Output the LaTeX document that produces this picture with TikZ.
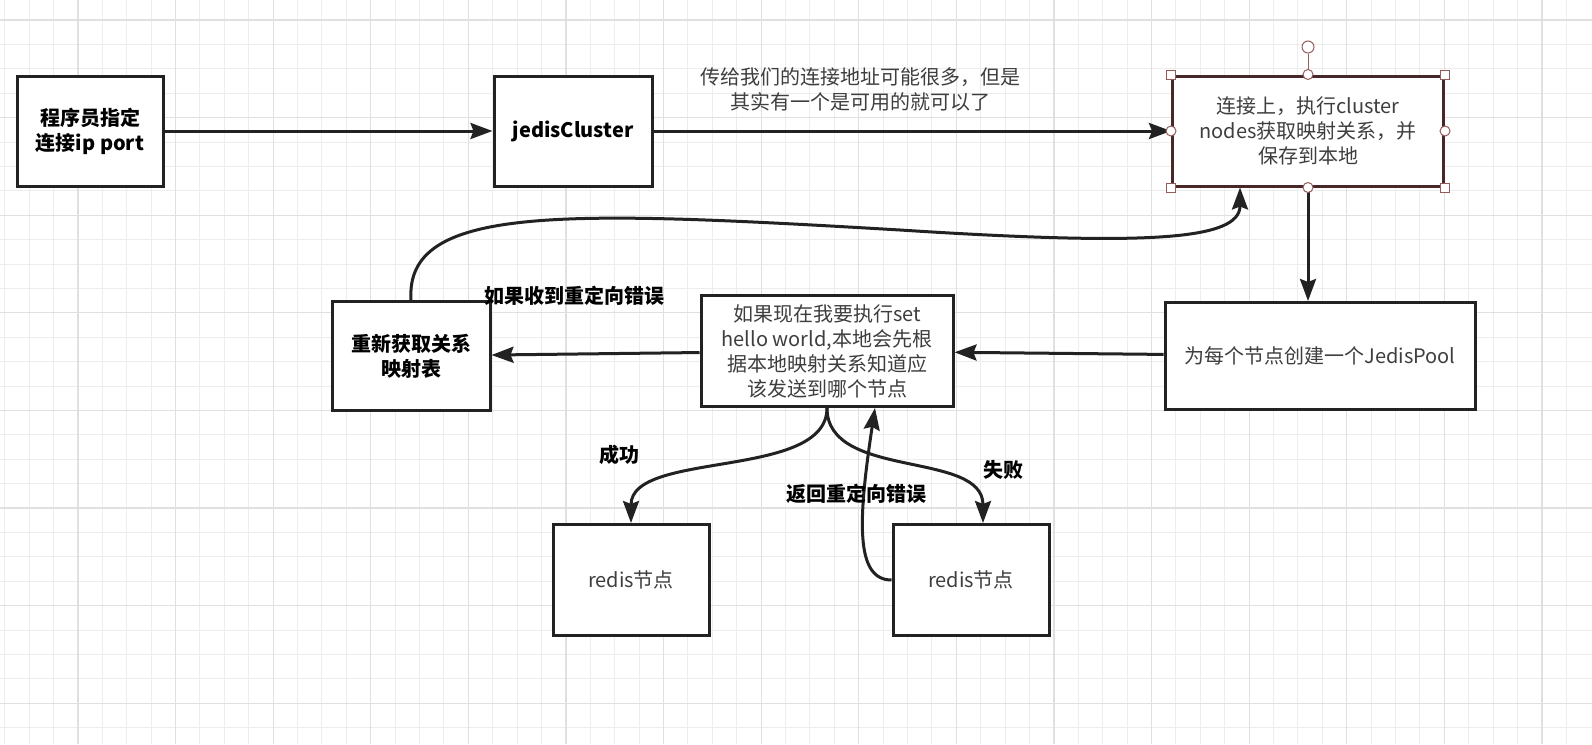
\documentclass[tikz,border=0pt]{standalone}
\usepackage{fontspec}
\setmainfont{Noto Sans CJK SC}
\usetikzlibrary{arrows.meta}

\definecolor{gridminor}{RGB}{237,237,237}
\definecolor{gridmajor}{RGB}{224,224,224}
\definecolor{ink}{RGB}{34,34,34}
\definecolor{soft}{RGB}{62,62,62}
\definecolor{selline}{RGB}{70,40,40}
\definecolor{handle}{RGB}{150,92,92}

\begin{document}
\begin{tikzpicture}
        [x=1pt, y=-1pt,
        every node/.style={font=\fontsize{20}{25}\selectfont},
        box/.style={rectangle, draw=ink, fill=white, line width=3pt, align=center, text=soft, inner sep=0pt},
        boldbox/.style={box, text=black, font=\fontsize{20}{25}\selectfont\bfseries},
        lbl/.style={font=\fontsize{20}{25}\selectfont\bfseries, text=black, inner sep=0pt},
        arr/.style={-{Stealth[length=22pt,width=16pt,inset=3pt]}, line width=3pt, draw=ink},
        handsq/.style={rectangle, draw=handle, fill=white, line width=1pt, minimum size=9pt, inner sep=0pt},
        handci/.style={circle, draw=handle, fill=white, line width=1pt, minimum size=10pt, inner sep=0pt}]
        \useasboundingbox (0,0) rectangle (1592,744);
        \fill[white] (0,0) rectangle (1592,744);
        % grid
        \foreach \i in {0,...,64}
          \draw[gridminor, line width=1pt] (4.7+24.4*\i,0) -- (4.7+24.4*\i,744);
        \foreach \j in {0,...,29}
          \draw[gridminor, line width=1pt] (0,20+24.4*\j) -- (1592,20+24.4*\j);
        \foreach \i in {3,7,...,63}
          \draw[gridmajor, line width=1.2pt] (4.7+24.4*\i,0) -- (4.7+24.4*\i,744);
        \foreach \j in {0,4,...,28}
          \draw[gridmajor, line width=1.2pt] (0,20+24.4*\j) -- (1592,20+24.4*\j);

        \node (reget) at (411,356) [boldbox, minimum width=158pt, minimum height=109pt] {重新获取关系\\映射表};
        \node (exec) at (827,351) [box, minimum width=252pt, minimum height=111pt]
          {如果现在我要执行set\\hello world,本地会先根\\据本地映射关系知道应\\该发送到哪个节点}
           edge[arr] (reget);
        \node (pool) at (1320,356) [box, minimum width=310pt, minimum height=107pt] {为每个节点创建一个JedisPool}
           edge[arr] (exec);
        \node (conn) at (1308,131) [box, draw=selline, minimum width=271pt, minimum height=110pt]
          {连接上，执行cluster\\nodes获取映射关系，并\\保存到本地};
        \draw[arr] (conn.south) -- (conn.south |- pool.north);
        \node (jc) at (573,131) [boldbox, minimum width=158pt, minimum height=110pt] {jedisCluster}
           edge[arr] node[lbl, font=\fontsize{20}{25}\selectfont, text=soft, pos=0.4, above=18pt, align=center]
             {传给我们的连接地址可能很多，但是\\其实有一个是可用的就可以了} (conn);
        \node (prog) at (90,131) [boldbox, minimum width=146pt, minimum height=110pt] {程序员指定\\连接ip port}
           edge[arr] (jc);
        \node (ok) at (631,580) [box, minimum width=156pt, minimum height=111pt] {redis节点};
        \node (fail) at (971,580) [box, minimum width=156pt, minimum height=111pt] {redis节点};

        % selection handles on the connect box
        \node (rot) at (1308,47) [handci, minimum size=12pt] {};
        \draw[handle, line width=1pt] (conn.north) -- (rot);
        \node (hnw) at (conn.north west) [handsq] {};
        \node (hne) at (conn.north east) [handsq] {};
        \node (hsw) at (conn.south west) [handsq] {};
        \node (hse) at (conn.south east) [handsq] {};
        \node (hn) at (conn.north) [handci] {};
        \node (hs) at (conn.south) [handci] {};
        \node (hw) at (conn.west) [handci] {};
        \node (he) at (conn.east) [handci] {};

        % curved connectors
        \draw[arr] (reget.north) .. controls (405,205) and (560,210) .. (900,230)
           .. controls (1150,246) and (1240,240) .. ([xshift=-68pt]conn.south);
        \draw[arr] (exec.south) .. controls (827,480) and (631,450) .. (ok.north);
        \draw[arr] (exec.south) .. controls (827,480) and (983,450) .. ([xshift=12pt]fail.north);
        \draw[arr] (fail.west) .. controls (855,580) and (858,520) .. ([xshift=48pt]exec.south);

        \node (lredir) at (574,296) [lbl] {如果收到重定向错误};
        \node (lok) at (619,455) [lbl] {成功};
        \node (lfail) at (1003,470) [lbl] {失败};
        \node (lback) at (856,494) [lbl] {返回重定向错误};
     \end{tikzpicture}
\end{document}
